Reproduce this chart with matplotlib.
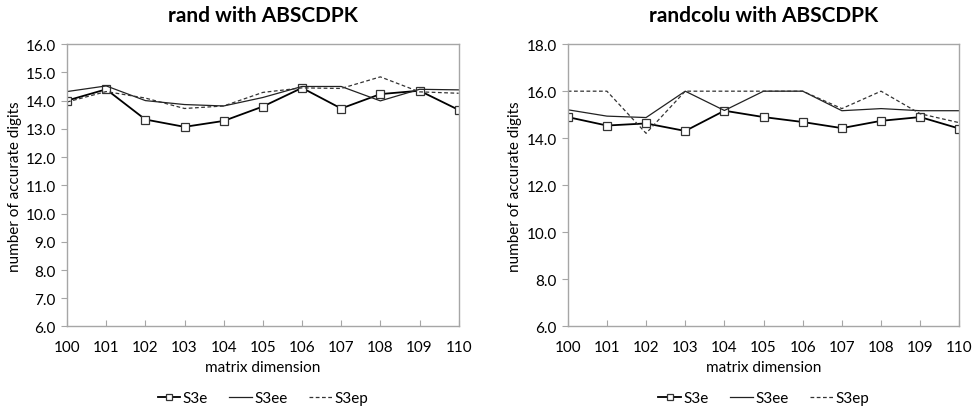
import matplotlib.pyplot as plt

plt.rcParams['font.family'] = ['Lato', 'DejaVu Sans']

dims = [100, 101, 102, 103, 104, 105, 106, 107, 108, 109, 110]

# rand with ABSCDPK
rand_s3e = [14.00, 14.40, 13.33, 13.07, 13.28, 13.79, 14.45, 13.72, 14.23, 14.35, 13.67]
rand_s3ee = [14.32, 14.52, 14.00, 13.86, 13.81, 14.11, 14.50, 14.50, 13.99, 14.40, 14.38]
rand_s3ep = [13.95, 14.32, 14.09, 13.72, 13.81, 14.29, 14.45, 14.43, 14.84, 14.31, 14.26]

# randcolu with ABSCDPK
colu_s3e = [14.90, 14.54, 14.63, 14.31, 15.17, 14.90, 14.69, 14.43, 14.74, 14.90, 14.41]
colu_s3ee = [15.21, 14.94, 14.88, 16.00, 15.18, 16.00, 16.00, 15.17, 15.26, 15.17, 15.17]
colu_s3ep = [16.00, 16.00, 14.21, 16.00, 16.00, 16.00, 16.00, 15.26, 16.00, 15.04, 14.66]

panels = [
    ('rand with ABSCDPK', rand_s3e, rand_s3ee, rand_s3ep, (6.0, 16.0), 1.0, 0.0689),
    ('randcolu with ABSCDPK', colu_s3e, colu_s3ee, colu_s3ep, (6.0, 18.0), 2.0, 0.5835),
]

fig = plt.figure(figsize=(9.73, 4.14), dpi=100)
spine_col = '#a6a6a6'
fs = 11

for title, s3e, s3ee, s3ep, ylim, step, left in panels:
    ax = fig.add_axes([left, 0.209, 0.4025, 0.682])
    ax.plot(dims, s3e, color='black', lw=1.3, marker='s', markersize=5.5,
            markerfacecolor='white', markeredgecolor='#333333', markeredgewidth=0.9, label='S3e')
    ax.plot(dims, s3ee, color='#222222', lw=0.9, label='S3ee')
    ax.plot(dims, s3ep, color='#333333', lw=0.9, ls=(0, (3, 2)), label='S3ep')

    ax.set_xlim(100, 110)
    ax.set_ylim(*ylim)
    ax.set_xticks(dims)
    yt = []
    v = ylim[0]
    while v <= ylim[1] + 1e-9:
        yt.append(v)
        v += step
    ax.set_yticks(yt)
    ax.set_yticklabels([f'{t:.1f}' for t in yt])
    ax.tick_params(axis='x', direction='in', length=4, color=spine_col, labelsize=fs, pad=10)
    ax.tick_params(axis='y', direction='out', length=4, color=spine_col, labelsize=fs, pad=4)
    for sp in ax.spines.values():
        sp.set_color(spine_col)
        sp.set_linewidth(1.0)

    ax.set_title(title, fontsize=15, fontweight='bold', pad=17)
    ax.set_xlabel('matrix dimension', fontsize=fs, labelpad=4)
    ax.set_ylabel('number of accurate digits', fontsize=fs, labelpad=3)
    ax.legend(loc='center', bbox_to_anchor=(0.5, -0.255), ncol=3, frameon=False,
              fontsize=fs, handlelength=1.5, handletextpad=0.15, columnspacing=1.4,
              markerscale=0.75)

fig.savefig('out.png', dpi=100)
